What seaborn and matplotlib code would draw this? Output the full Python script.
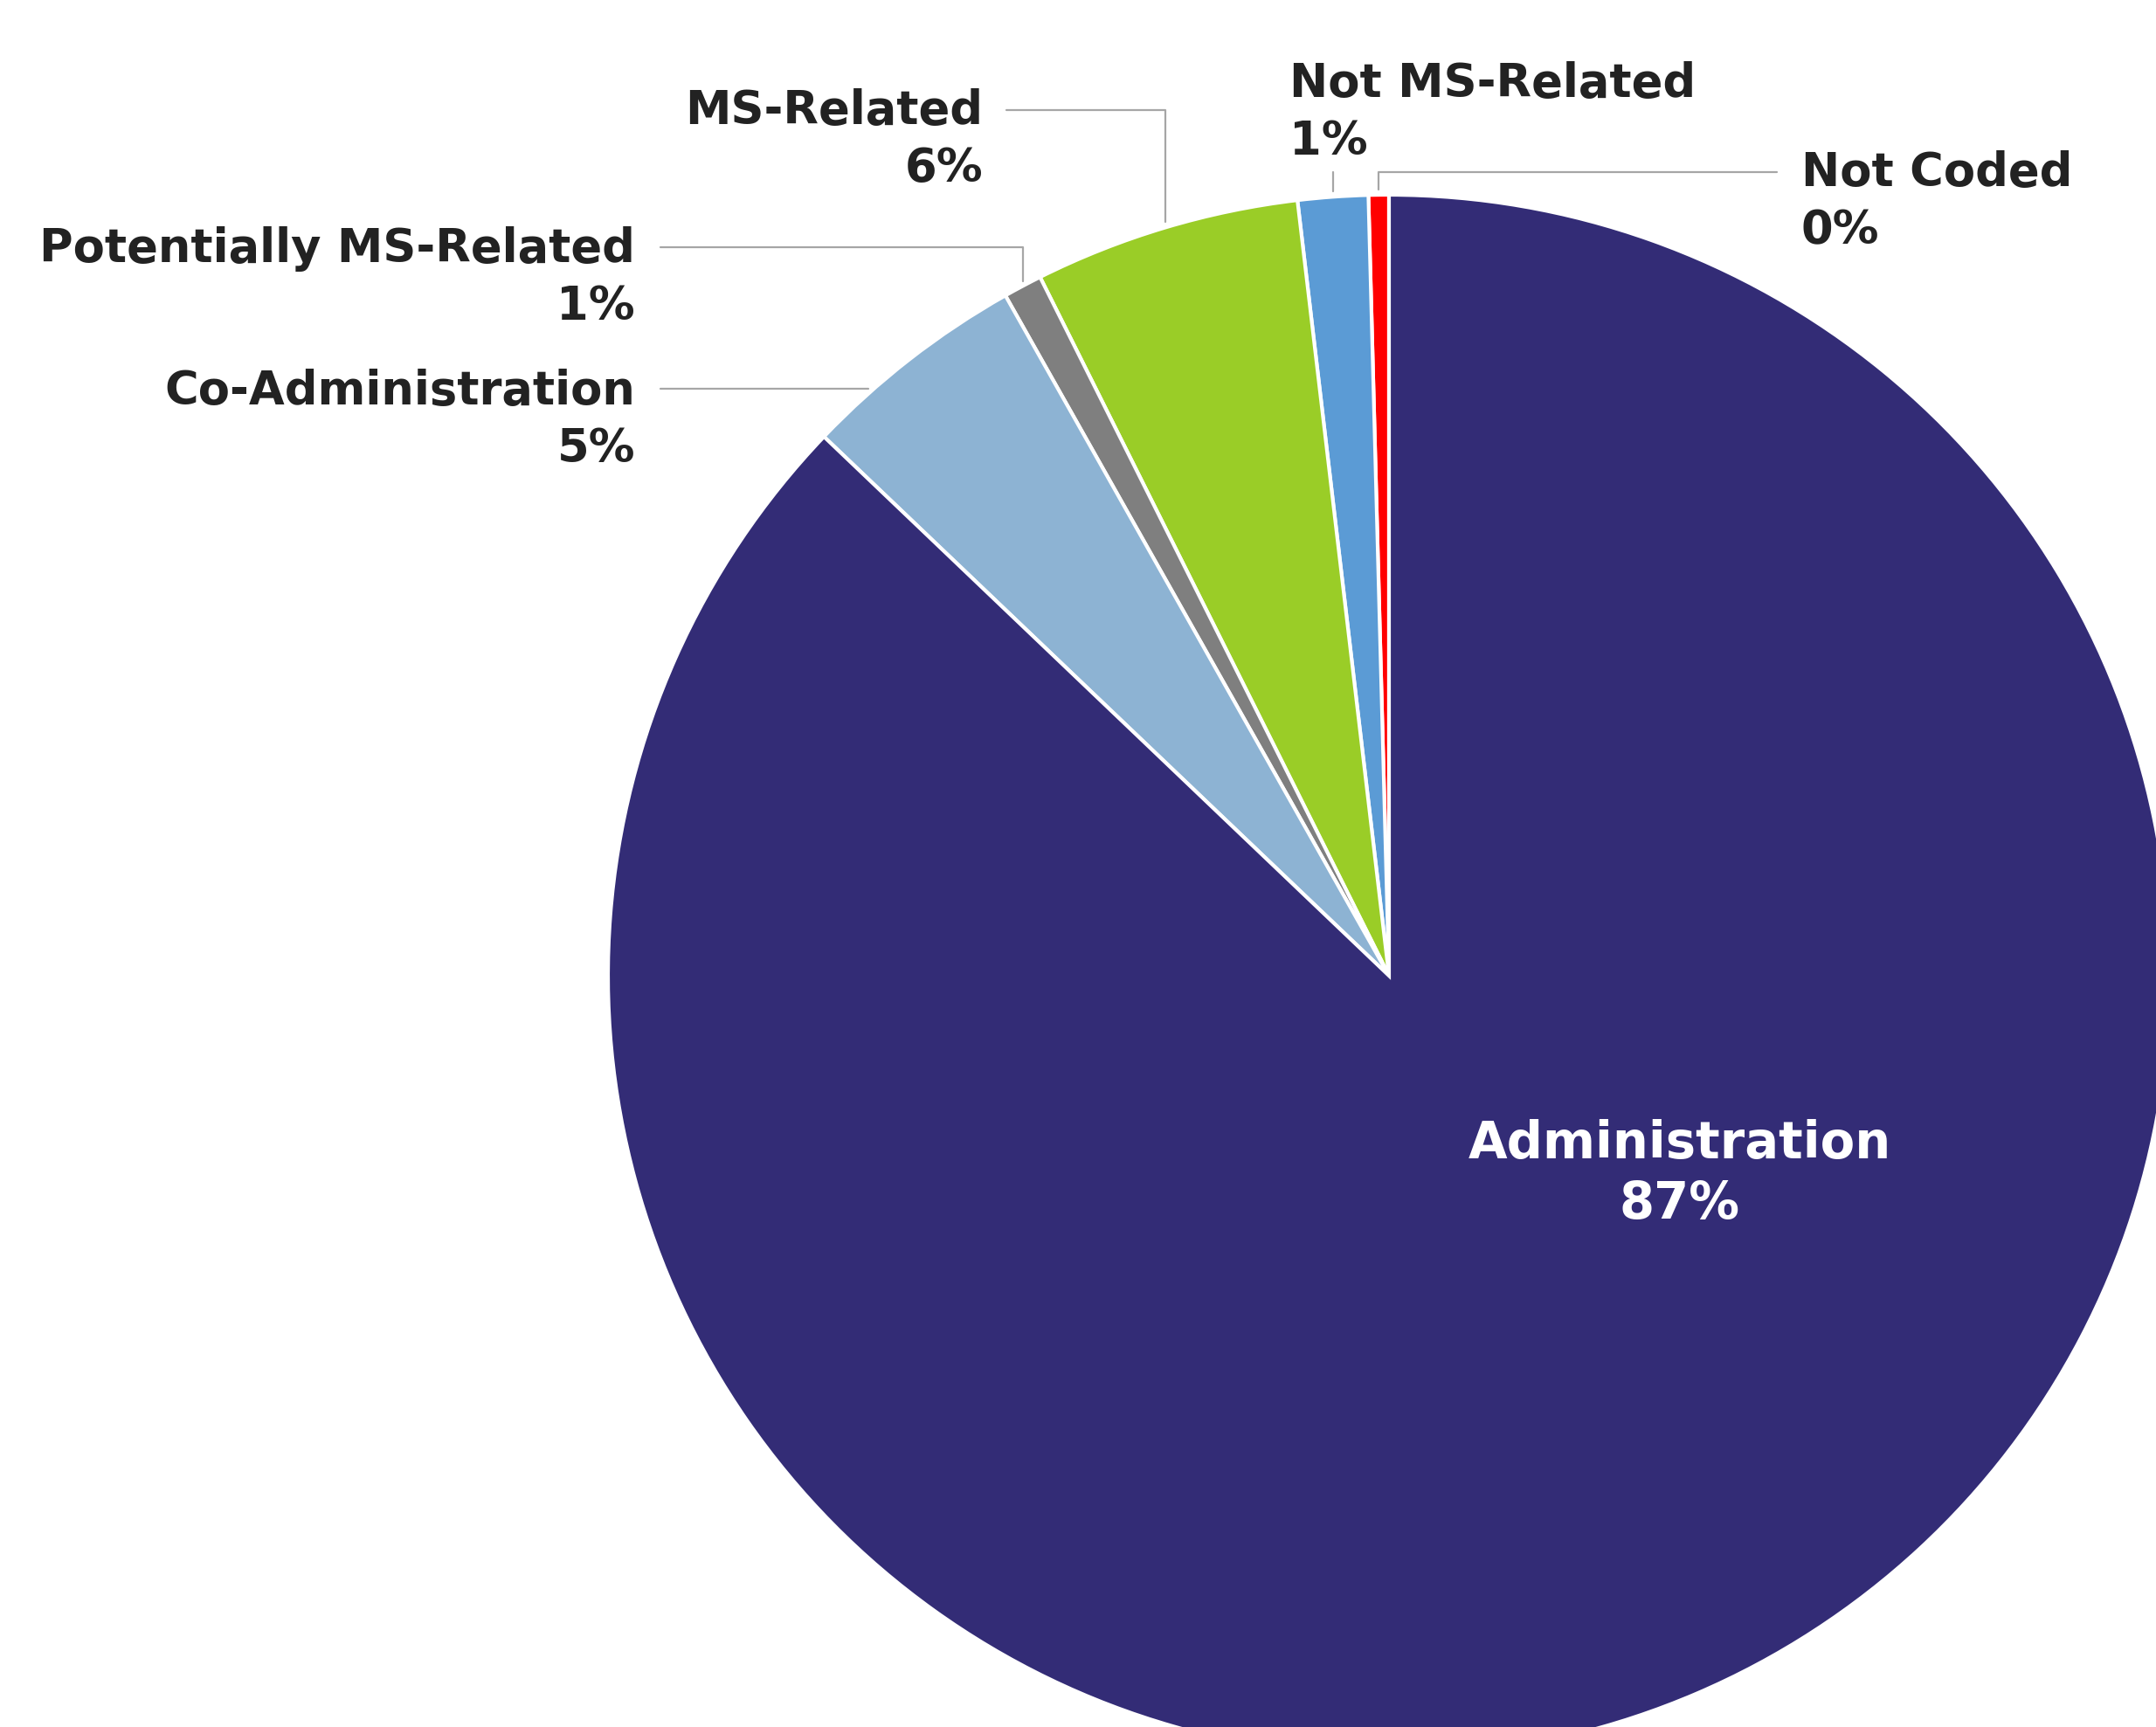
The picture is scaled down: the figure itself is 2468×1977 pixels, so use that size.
import numpy as np
import matplotlib
matplotlib.use("Agg")
import matplotlib.pyplot as plt
import seaborn as sns

sns.set_theme(style="white")
plt.rcParams['font.family'] = ['DejaVu Sans']

# slice data, counter-clockwise from 12 o'clock
categories = ["Not Coded", "Not MS-Related", "MS-Related",
              "Potentially MS-Related", "Co-Administration", "Administration"]
shares = [0.42, 1.45, 5.5, 0.8, 4.7, 87.1]
pct_labels = ["0%", "1%", "6%", "1%", "5%", "87%"]
colors = ["#FF0000", "#5B9BD5", "#9ACD27", "#7F7F7F", "#8DB3D3", "#332C76"]

W, H = 2468, 1977
cx, cy, r = 1590, H - 1117, 894
line_col = "#A6A6A6"
txt_col = "#222222"
fs = 38
ls = 1.35


def top(y):
    # pixel row from top -> data y
    return H - y


def arc_mid(i):
    total = sum(shares)
    start = 90 + 360 * sum(shares[:i]) / total
    mid = np.deg2rad(start + 180 * shares[i] / total)
    return cx + r * np.cos(mid), cy + r * np.sin(mid)


fig = plt.figure(figsize=(W / 100, H / 100), dpi=100)
ax = fig.add_axes([0, 0, 1, 1])
ax.pie(shares, colors=colors, startangle=90, counterclock=True,
       center=(cx, cy), radius=r,
       wedgeprops=dict(edgecolor="white", linewidth=3))
ax.set_xlim(0, W)
ax.set_ylim(0, H)
ax.set_aspect("equal")
ax.axis("off")

lw = 1.6
gap = 6

# Not Coded
mx, my = arc_mid(0)
ly = top(197)
ax.plot([2034, mx, mx], [ly, ly, my + gap], color=line_col, lw=lw)
ax.text(2062, top(231), f"{categories[0]}\n{pct_labels[0]}", ha="left", va="center",
        fontsize=fs, fontweight="bold", color=txt_col, linespacing=ls)

# Not MS-Related
mx, my = arc_mid(1)
ax.plot([mx, mx], [top(197), my + gap], color=line_col, lw=lw)
ax.text(1476, top(129), f"{categories[1]}\n{pct_labels[1]}", ha="left", va="center",
        fontsize=fs, fontweight="bold", color=txt_col, linespacing=ls)

# MS-Related
mx, my = arc_mid(2)
ly = top(126)
ax.plot([1152, mx, mx], [ly, ly, my + gap], color=line_col, lw=lw)
ax.text(1125, top(160), f"{categories[2]}\n{pct_labels[2]}", ha="right", va="center",
        multialignment="right", fontsize=fs, fontweight="bold", color=txt_col,
        linespacing=ls)

# Potentially MS-Related
mx, my = arc_mid(3)
ly = top(283)
ax.plot([756, mx, mx], [ly, ly, my + gap], color=line_col, lw=lw)
ax.text(727, top(318), f"{categories[3]}\n{pct_labels[3]}", ha="right", va="center",
        multialignment="right", fontsize=fs, fontweight="bold", color=txt_col,
        linespacing=ls)

# Co-Administration
ly = top(445)
ex = cx - np.sqrt(r ** 2 - (ly - cy) ** 2)
ax.plot([756, ex - gap], [ly, ly], color=line_col, lw=lw)
ax.text(727, top(481), f"{categories[4]}\n{pct_labels[4]}", ha="right", va="center",
        multialignment="right", fontsize=fs, fontweight="bold", color=txt_col,
        linespacing=ls)

# Administration (inside)
ax.text(1923, top(1344), f"{categories[5]}\n{pct_labels[5]}", ha="center", va="center",
        fontsize=41.5, fontweight="bold", color="white", linespacing=1.25)

fig.savefig("out.png", dpi=100)
